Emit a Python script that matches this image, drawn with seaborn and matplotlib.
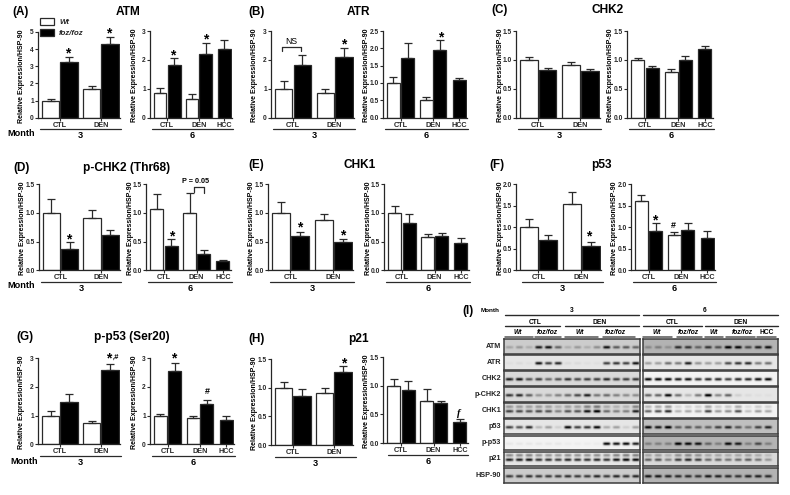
import numpy as np
import pandas as pd
import matplotlib
matplotlib.use('Agg')
import matplotlib.pyplot as plt
from matplotlib.lines import Line2D
import seaborn as sns

W, H = 790, 495

# bar groups, one entry per bar
groups_3 = ['CTL', 'CTL', 'DEN', 'DEN']
groups_6 = ['CTL', 'CTL', 'DEN', 'DEN', 'HCC']
geno_3 = ['Wt', 'foz/foz', 'Wt', 'foz/foz']
geno_6 = ['Wt', 'foz/foz', 'Wt', 'foz/foz', 'foz/foz']

# means and tops of the error bars
atm_3 = [1.0, 3.27, 1.7, 4.32]
atm_3_top = [1.12, 3.52, 1.85, 4.72]
atm_6 = [0.85, 1.82, 0.64, 2.22, 2.38]
atm_6_top = [1.03, 2.07, 0.82, 2.58, 2.7]
atr_3 = [1.0, 1.83, 0.85, 2.1]
atr_3_top = [1.27, 2.17, 0.98, 2.4]
atr_6 = [1.0, 1.72, 0.5, 1.94, 1.07]
atr_6_top = [1.16, 2.15, 0.6, 2.24, 1.14]
chk2_3 = [1.0, 0.82, 0.91, 0.8]
chk2_3_top = [1.05, 0.85, 0.96, 0.84]
chk2_6 = [1.0, 0.86, 0.79, 0.99, 1.19]
chk2_6_top = [1.04, 0.9, 0.84, 1.06, 1.24]
pchk2_3 = [1.0, 0.37, 0.91, 0.62]
pchk2_3_top = [1.25, 0.5, 1.05, 0.7]
pchk2_6 = [1.07, 0.42, 1.0, 0.29, 0.16]
pchk2_6_top = [1.33, 0.54, 1.34, 0.36, 0.18]
chk1_3 = [1.0, 0.59, 0.88, 0.49]
chk1_3_top = [1.19, 0.66, 0.98, 0.54]
chk1_6 = [1.0, 0.82, 0.58, 0.6, 0.48]
chk1_6_top = [1.12, 0.99, 0.63, 0.65, 0.56]
p53_3 = [1.0, 0.7, 1.54, 0.57]
p53_3_top = [1.2, 0.82, 1.82, 0.65]
p53_6 = [1.62, 0.92, 0.82, 0.93, 0.74]
p53_6_top = [1.74, 1.09, 0.9, 1.11, 0.92]
pp53_3 = [1.0, 1.47, 0.73, 2.58]
pp53_3_top = [1.16, 1.75, 0.81, 2.8]
pp53_6 = [1.0, 2.55, 0.92, 1.39, 0.86]
pp53_6_top = [1.07, 2.85, 0.99, 1.55, 0.98]
p21_3 = [1.0, 0.85, 0.91, 1.27]
p21_3_top = [1.1, 0.97, 1.0, 1.38]
p21_6 = [1.0, 0.92, 0.73, 0.7, 0.37]
p21_6_top = [1.12, 1.08, 0.94, 0.74, 0.41]

# band darkness per lane for the blots
blot_names = ['ATM', 'ATR', 'CHK2', 'p-CHK2', 'CHK1', 'p53', 'p-p53', 'p21', 'HSP-90']
blot_atm_3 = [.2, .25, .15, .85, .9, .5, .15, .25, .15, .3, .9, .55, .55, .5]
blot_atr_3 = [.03, .05, .03, .9, .7, .8, .05, .05, .03, .03, .7, .75, .7, .9]
blot_chk2_3 = [.85, .9, .6, .7, .5, .6, .75, .65, .7, .7, .8, .7, .7, .75]
blot_pchk2_3 = [.75, .8, .55, .3, .3, .4, .5, .65, .85, .45, .5, .4, .35, .35]
blot_chk1_3 = [.7, .65, .6, .65, .6, .4, .6, .6, .9, 1, .5, .4, .4, .85]
blot_p53_3 = [.7, .6, .8, .2, .3, .1, .95, .7, .75, .95, .25, .3, .1, .3]
blot_pp53_3 = [.05, .05, .05, .05, .05, .05, .03, .03, .03, .03, .95, .9, .95, .85]
blot_p21_3 = [.85, .85, .9, .75, .75, .7, .8, .75, .75, .8, .75, .9, .95, .95]
blot_hsp_3 = [.7, .7, .75, .7, .7, .7, .75, .7, .7, .8, .7, .8, .75, .8]
blot_atm_6 = [.25, .3, .2, .75, .7, .45, .7, .55, 1, .95, .6, .8, .9]
blot_atr_6 = [.3, .3, .5, .45, .85, .35, .3, .3, .65, .75, .8, .45, .5]
blot_chk2_6 = [.95, .95, .95, .85, .9, .75, .8, .8, .7, .8, .8, .9, .95]
blot_pchk2_6 = [.55, .55, .95, .5, .2, .45, 1, .4, .55, .1, .05, .03, .03]
blot_chk1_6 = [.55, .65, .8, .25, .3, .3, .7, .35, .4, .65, .2, .35, .3]
blot_p53_6 = [.95, .85, 1, .5, .55, .5, .5, .65, .8, .55, .4, .65, .8]
blot_pp53_6 = [.3, .3, .3, 1, .95, .9, .45, .3, .95, .85, .3, .6, .3]
blot_p21_6 = [.55, .6, .4, .7, .8, .7, .5, .5, .45, .5, .55, .45, .3]
blot_hsp_6 = [.85, .85, .8, .75, .75, .7, .85, .8, .75, .7, .8, .8, .75]
blot_bg_3 = [.2, .1, .15, .15, .15, .1, .05, .1, .2]
blot_bg_6 = [.3, .1, .05, .1, .05, .25, .3, .15, .3]

FONT = 'Liberation Sans'
DARK = '#2a2a2a'

sns.set_theme(style='ticks')
plt.rcParams['font.family'] = [FONT, 'DejaVu Sans']
plt.rcParams['font.weight'] = 'bold'
plt.rcParams['axes.linewidth'] = 0.9

fig = plt.figure(figsize=(W / 100, H / 100), dpi=100, facecolor='white')


def px(x, y):
    return x / W, 1 - y / H


def label(x, y, s, size=5.2, **kw):
    kw.setdefault('ha', 'center')
    kw.setdefault('va', 'center')
    kw.setdefault('color', 'black')
    fig.text(*px(x, y), s, fontsize=size, **kw)


def hline(x0, x1, y, lw=0.9, color=DARK):
    a, b = px(x0, y), px(x1, y)
    fig.add_artist(Line2D([a[0], b[0]], [a[1], b[1]], color=color, lw=lw))


def vline(x, y0, y1, lw=0.9, color=DARK):
    a, b = px(x, y0), px(x, y1)
    fig.add_artist(Line2D([a[0], b[0]], [a[1], b[1]], color=color, lw=lw))


def bar_panel(left, right, top, bottom, vals, tops, yticks, fmt, month, line=None, legend=False):
    ax = fig.add_axes([left / W, 1 - bottom / H, (right - left) / W, (bottom - top) / H])
    if month == 3:
        pos, groups, geno = [0, 1, 2.24, 3.24], groups_3, geno_3
        xlim = (-0.68, 3.78)
        centers = [0.5, 2.74]
    else:
        pos, groups, geno = [0, 1, 2.27, 3.22, 4.55], groups_6, geno_6
        xlim = (-0.72, 5.1)
        centers = [0.5, 2.75, 4.55]
    df = pd.DataFrame({'pos': pos, 'value': vals, 'geno': geno, 'group': groups})
    sns.barplot(data=df, x='pos', y='value', hue='geno', hue_order=['Wt', 'foz/foz'],
                palette={'Wt': 'white', 'foz/foz': 'black'}, dodge=False, native_scale=True,
                width=0.94, edgecolor=DARK, linewidth=0.9, errorbar=None, legend=legend, ax=ax)
    vals = np.array(vals)
    ax.errorbar(pos, vals, yerr=[np.zeros(len(vals)), np.array(tops) - vals], fmt='none',
                ecolor=DARK, elinewidth=0.9, capsize=2.6, capthick=0.9)
    ax.set_xlim(*xlim)
    ax.set_ylim(0, yticks[-1])
    ax.set_yticks(yticks)
    ax.set_yticklabels([fmt.format(t) for t in yticks], fontsize=4.8, fontweight='bold')
    ax.set_xticks(centers)
    ax.set_xticklabels(list(dict.fromkeys(groups)), fontsize=5.2, fontweight='bold')
    ax.tick_params(axis='both', length=2, width=0.8, pad=1, color=DARK)
    ax.set_xlabel('')
    ax.set_ylabel('')
    ax.patch.set_alpha(0)
    sns.despine(ax=ax)

    label(left - 16, (top + bottom) / 2 + 1, 'Relative Expression/HSP-90', size=5.0, rotation=90)
    x0, x1 = line if line else (left + 2, right + 1)
    hline(x0, x1, bottom + 11.5)
    label((x0 + x1) / 2, bottom + 18, str(month), size=6.6)
    return ax


def blot(left, right, top, bottom, bands, bg, first, step, double=False):
    ax = fig.add_axes([left / W, 1 - bottom / H, (right - left) / W, (bottom - top) / H])
    xs = np.arange(left, right, 0.5) + 0.25
    ys = np.arange(top, bottom, 0.5) + 0.25
    xx, yy = np.meshgrid(xs, ys)
    mid = (top + bottom) / 2 + 0.5
    img = np.full(xx.shape, float(bg))
    for i, d in enumerate(bands):
        c = first + i * step
        prof = np.exp(-((xx - c) / 3.6) ** 4)
        img = img + (1 - bg) * d * prof * np.exp(-((yy - mid) / 1.5) ** 2)
        if double:
            img = img + (1 - bg) * 0.45 * d * prof * np.exp(-((yy - mid + 4.5) / 1.6) ** 2)
    sns.heatmap(np.clip(img, 0, 1), ax=ax, cmap='gray_r', vmin=0, vmax=1, cbar=False,
                xticklabels=False, yticklabels=False)
    for s in ax.spines.values():
        s.set_visible(True)
        s.set_color('#3c3c3c')
        s.set_linewidth(1.1)
    return ax


# row 1
ax_a = bar_panel(38, 120, 32, 117.7, atm_3, atm_3_top, [0, 1, 2, 3, 4, 5], '{:d}', 3, legend=True)
sns.move_legend(ax_a, 'upper left', bbox_to_anchor=(0.02, 1.16), frameon=False, title=None,
                prop={'style': 'italic', 'weight': 'bold', 'size': 5.6, 'family': FONT},
                handlelength=1.9, handleheight=1.0, handletextpad=0.6, labelspacing=0.35,
                borderaxespad=0, borderpad=0)
bar_panel(150, 232, 31, 117.7, atm_6, atm_6_top, [0, 1, 2, 3], '{:d}', 6)
bar_panel(271, 354, 31, 117.5, atr_3, atr_3_top, [0, 1, 2, 3], '{:d}', 3)
bar_panel(383, 467, 31, 117.5, atr_6, atr_6_top, [0, .5, 1, 1.5, 2, 2.5], '{:.1f}', 6)
bar_panel(516, 600, 31, 117.5, chk2_3, chk2_3_top, [0, .5, 1, 1.5], '{:.1f}', 3)
bar_panel(627, 713, 31, 117.5, chk2_6, chk2_6_top, [0, .5, 1, 1.5], '{:.1f}', 6)
# row 2
bar_panel(39, 120, 184.3, 270.3, pchk2_3, pchk2_3_top, [0, .5, 1, 1.5], '{:.1f}', 3)
bar_panel(146, 231, 184.3, 270.3, pchk2_6, pchk2_6_top, [0, .5, 1, 1.5], '{:.1f}', 6)
bar_panel(268, 353, 184.3, 270.3, chk1_3, chk1_3_top, [0, .5, 1, 1.5], '{:.1f}', 3)
bar_panel(384, 469, 184.3, 270.3, chk1_6, chk1_6_top, [0, .5, 1, 1.5], '{:.1f}', 6)
bar_panel(516, 601, 184.3, 270.3, p53_3, p53_3_top, [0, .5, 1, 1.5, 2], '{:.1f}', 3, line=(522, 603))
bar_panel(631, 715, 184.3, 270.3, p53_6, p53_6_top, [0, .5, 1, 1.5, 2], '{:.1f}', 6)
# row 3
bar_panel(38, 120, 358.3, 444.3, pp53_3, pp53_3_top, [0, 1, 2, 3], '{:d}', 3)
bar_panel(150, 234, 358.3, 444.3, pp53_6, pp53_6_top, [0, 1, 2, 3], '{:d}', 6)
bar_panel(271, 353, 359, 445, p21_3, p21_3_top, [0, .5, 1, 1.5], '{:.1f}', 3, line=(275, 356))
bar_panel(383, 468, 357, 443, p21_6, p21_6_top, [0, .5, 1, 1.5], '{:.1f}', 6, line=(388, 468))

# panel letters and titles
for x, y, s in [(21, 12, '(A)'), (257, 12, '(B)'), (500, 10, '(C)'), (22, 168, '(D)'),
                (256, 165, '(E)'), (497, 165, '(F)'), (25, 337, '(G)'), (257, 339, '(H)'),
                (468, 311, '(I)')]:
    label(x, y, s, size=8.4)
for x, y, s in [(128, 12, 'ATM'), (358, 12, 'ATR'), (608, 10, 'CHK2'),
                (127, 168, 'p-CHK2 (Thr68)'), (360, 165, 'CHK1'), (601, 165, 'p53'),
                (132, 337, 'p-p53 (Ser20)'), (358, 339, 'p21')]:
    label(x, y, s, size=8.6)
for x, y in [(21, 134), (21, 286), (24, 462)]:
    label(x, y, 'Month', size=6.6)

# significance marks
for x, y in [(67.5, 53), (109, 33), (173, 55), (206, 39), (344, 44), (441, 37), (69, 239),
             (172, 236), (300, 227), (343, 235), (589, 236), (655, 220), (174, 358), (344, 363)]:
    label(x, y, '*', size=10)
label(109, 358, '*', size=10)
label(115, 357, ',#', size=5.4, style='italic')
for x, y in [(673, 226), (207, 392)]:
    label(x, y, '#', size=6.4)
label(459, 413, 'f', size=7.5, style='italic', family=['Liberation Serif'])
label(291, 42, 'NS', size=6.2, fontweight='normal')
hline(282, 301, 47)
vline(282, 47, 51)
vline(301, 47, 51)
label(196, 182, 'P = 0.05', size=5.2)
hline(194, 204, 187)
vline(194, 187, 192)
vline(204, 187, 193)

# western blots
rows_y = [(339, 354), (355, 370), (371, 386), (387, 402), (403, 418),
          (419, 434), (436, 450), (452, 466), (468, 483)]
bands_3 = [blot_atm_3, blot_atr_3, blot_chk2_3, blot_pchk2_3, blot_chk1_3,
           blot_p53_3, blot_pp53_3, blot_p21_3, blot_hsp_3]
bands_6 = [blot_atm_6, blot_atr_6, blot_chk2_6, blot_pchk2_6, blot_chk1_6,
           blot_p53_6, blot_pp53_6, blot_p21_6, blot_hsp_6]
for i, (y0, y1) in enumerate(rows_y):
    two = blot_names[i] in ('CHK1', 'p21')
    blot(504, 640, y0, y1, bands_3[i], blot_bg_3[i], 509.5, 9.7, double=two)
    blot(643, 778, y0, y1, bands_6[i], blot_bg_6[i], 648, 10, double=two)
    label(501, (y0 + y1) / 2, blot_names[i], size=5.2, ha='right', color='#222222')

label(490, 310, 'Month', size=4.6)
label(572, 310, '3', size=4.8)
label(705, 310, '6', size=4.8)
hline(505, 639, 315, lw=1.0)
hline(643, 778, 315, lw=1.0)
for x, x0, x1, s in [(535, 505, 560, 'CTL'), (600, 565, 639, 'DEN'),
                     (672, 643, 702, 'CTL'), (741, 705, 778, 'DEN')]:
    label(x, 322, s, size=4.8)
    hline(x0, x1, 326, lw=1.0)
for x, x0, x1, s in [(518, 505, 533, 'Wt'), (547, 535, 561, 'foz/foz'), (580, 565, 598, 'Wt'),
                     (615, 603, 635, 'foz/foz'), (657, 643, 672, 'Wt'), (688, 677, 702, 'foz/foz'),
                     (714, 705, 723, 'Wt'), (742, 726, 755, 'foz/foz')]:
    label(x, 332, s, size=4.8, style='italic')
    hline(x0, x1, 337, lw=1.1, color='#555555')
label(767, 332, 'HCC', size=4.8)
hline(757, 776, 337, lw=1.1, color='#555555')

fig.savefig('out.png', dpi=100)
